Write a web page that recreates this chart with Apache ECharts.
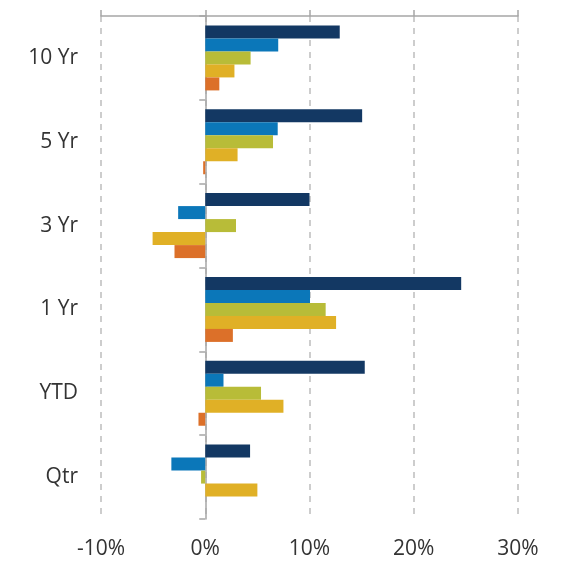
<!DOCTYPE html>
<html>
<head>
<meta charset="utf-8">
<script src="https://cdn.jsdelivr.net/npm/echarts@6/dist/echarts.min.js"></script>
<style>
  html, body { margin: 0; padding: 0; background: #fff; }
  #chart { width: 562px; height: 562px; }
</style>
</head>
<body>
<div id="chart"></div>
<script>
// periods, top to bottom
var periods = ['10 Yr', '5 Yr', '3 Yr', '1 Yr', 'YTD', 'Qtr'];

// returns in %, one array per series (same order as periods)
var seriesA = [12.9, 15.05, 10.0, 24.55, 15.3, 4.3];
var seriesB = [7.0, 6.95, -2.6, 10.05, 1.75, -3.25];
var seriesC = [4.35, 6.5, 2.95, 11.55, 5.35, -0.4];
var seriesD = [2.8, 3.1, -5.05, 12.55, 7.5, 5.0];
var seriesE = [1.35, -0.2, -2.95, 2.65, -0.65, 0];

var xTicks = [-10, 0, 10, 20, 30];

var colors = ['#133863', '#0b77b9', '#b8bc38', '#e0b026', '#dc7029'];
var font = '"Open Sans", "Noto Sans", sans-serif';

var chart = echarts.init(document.getElementById('chart'));

function barSeries(data, i) {
	return {
		type : 'bar',
		yAxisIndex : 0,
		data : data,
		barWidth : 13,
		barGap : '0%',
		itemStyle : {
			color : colors[i]
		}
	};
}

var option = {
	animation : false,
	grid : {
		left : 101,
		right : 44,
		top : 16,
		bottom : 43,
		containLabel : false
	},
	xAxis : [ {
		type : 'value',
		min : xTicks[0],
		max : xTicks[xTicks.length - 1],
		interval : 10,
		position : 'bottom',
		axisLine : { show : false },
		axisTick : { show : false },
		axisLabel : {
			formatter : '{value}%',
			color : '#333',
			fontSize : 21,
			fontFamily : font,
			margin : 20
		},
		splitLine : {
			show : true,
			lineStyle : { color : '#bdbdbd', type : [6, 6], width : 1.5 }
		}
	}, {
		type : 'value',
		min : xTicks[0],
		max : xTicks[xTicks.length - 1],
		interval : 10,
		position : 'top',
		axisLine : { show : true, lineStyle : { color : '#a6a6a6', width : 1.5 } },
		axisTick : { show : true, length : 6, lineStyle : { color : '#a6a6a6', width : 1.5 } },
		axisLabel : { show : false },
		splitLine : { show : false }
	} ],
	yAxis : [ {
		type : 'category',
		data : periods,
		inverse : true,
		position : 'left',
		axisLine : { show : false },
		axisTick : { show : false },
		axisLabel : {
			color : '#333',
			fontSize : 21,
			fontFamily : font,
			margin : 23
		}
	}, {
		type : 'category',
		data : periods,
		inverse : true,
		position : 'left',
		axisLine : { show : true, onZero : true, lineStyle : { color : '#a6a6a6', width : 1.5 } },
		axisTick : { show : true, length : 6, lineStyle : { color : '#a6a6a6', width : 1.5 } },
		axisLabel : { show : false }
	} ],
	series : [
		barSeries(seriesA, 0),
		barSeries(seriesB, 1),
		barSeries(seriesC, 2),
		barSeries(seriesD, 3),
		barSeries(seriesE, 4)
	]
};
chart.setOption(option);
</script>
</body>
</html>
